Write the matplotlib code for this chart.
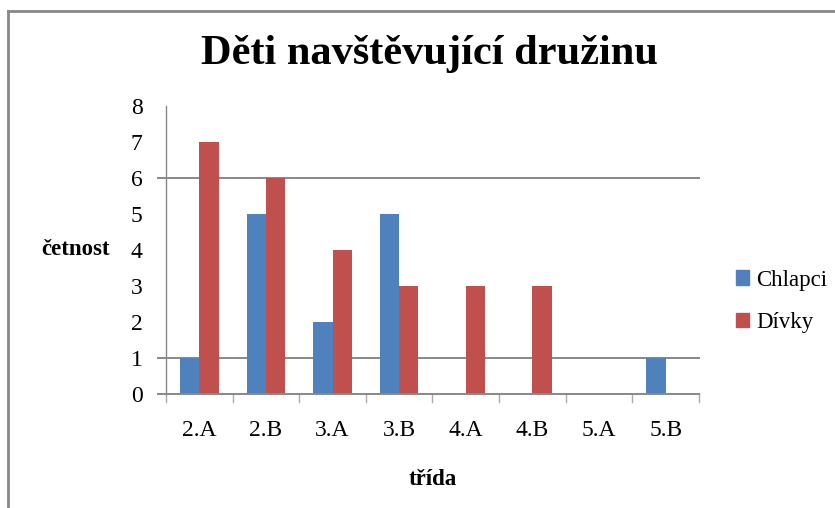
import matplotlib
matplotlib.use("Agg")
import matplotlib.pyplot as plt
import numpy as np
from matplotlib.lines import Line2D
from matplotlib.patches import Patch

categories = ["2.A", "2.B", "3.A", "3.B", "4.A", "4.B", "5.A", "5.B"]
chlapci = [1, 5, 2, 5, 0, 0, 0, 1]
divky = [7, 6, 4, 3, 3, 3, 0, 0]
series_names = ["Chlapci", "Dívky"]
yticks = [0, 1, 2, 3, 4, 5, 6, 7, 8]
grid_values = [1, 6]

blue = "#4F81BD"
red = "#C0504D"
gray = "#888888"
serif = ["Liberation Serif", "DejaVu Serif"]

fig = plt.figure(figsize=(8.35, 5.08), dpi=100)
ax = fig.add_axes([0.1988, 0.2244, 0.6383, 0.5669])

x = np.arange(len(categories))
w = 0.29
ax.bar(x - w / 2, chlapci, width=w, color=blue, zorder=3)
ax.bar(x + w / 2, divky, width=w, color=red, zorder=3)

ax.set_xlim(-0.5, len(categories) - 0.5)
ax.set_ylim(0, 8)

for g in grid_values:
    ax.axhline(g, xmin=-0.015, xmax=1, color=gray, lw=1.4, zorder=1, clip_on=False)
ax.axhline(0, xmin=-0.015, xmax=1, color=gray, lw=1.4, zorder=4, clip_on=False)

for s in ["top", "right", "bottom"]:
    ax.spines[s].set_visible(False)
ax.spines["left"].set_color(gray)
ax.spines["left"].set_linewidth(1.0)

ax.set_yticks(yticks)
ax.set_yticklabels([str(v) for v in yticks], fontfamily=serif, fontsize=17)
ax.tick_params(axis="y", length=0, pad=17)

ax.set_xticks(x)
ax.set_xticklabels(categories, fontfamily=serif, fontsize=17)
ax.tick_params(axis="x", length=0, pad=19)
for b in np.arange(-0.5, len(categories), 1.0):
    ax.plot([b, b], [0, -0.22], color="#aaaaaa", lw=1, clip_on=False, zorder=2)

ax.set_xlabel("třída", fontfamily=serif, fontsize=16.5, fontweight="bold", labelpad=20)
fig.text(0.05, 0.508, "četnost", fontfamily=serif, fontsize=16.5, fontweight="bold",
         ha="left", va="center")

fig.text(0.514, 0.893, "Děti navštěvující družinu", fontfamily=serif, fontsize=30.5,
         fontweight="bold", ha="center", va="center")

handles = [Patch(color=blue), Patch(color=red)]
leg = fig.legend(handles, series_names, loc="center left", bbox_to_anchor=(0.8814, 0.4065),
                 frameon=False, prop={"family": serif, "size": 16.5},
                 borderpad=0, borderaxespad=0,
                 handlelength=0.57, handleheight=0.57, handletextpad=0.3, labelspacing=0.95)

fig.add_artist(Line2D([0.0095, 0.0095], [0, 0.979], transform=fig.transFigure, color=gray, lw=2))
fig.add_artist(Line2D([0.0095, 1], [0.979, 0.979], transform=fig.transFigure, color=gray, lw=2))

fig.savefig("out.png", dpi=100)
